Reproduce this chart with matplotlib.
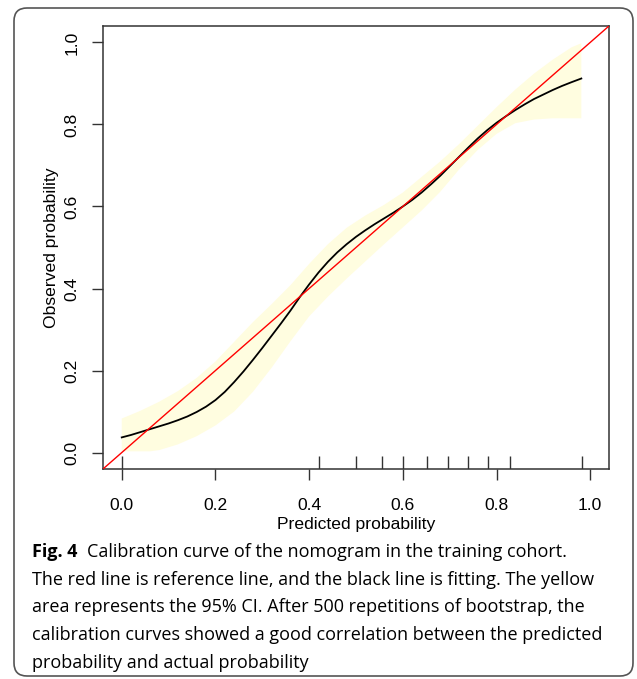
import numpy as np
import matplotlib.pyplot as plt
from matplotlib.patches import FancyBboxPatch
from matplotlib.transforms import IdentityTransform

plt.rcParams['font.family'] = ['Liberation Sans', 'DejaVu Sans']

# fitted calibration curve (black line)
pred_fit = [0.00, 0.02, 0.04, 0.06, 0.08, 0.10, 0.12, 0.14, 0.16, 0.18, 0.20, 0.22, 0.24,
            0.26, 0.28, 0.30, 0.32, 0.34, 0.36, 0.38, 0.40, 0.42, 0.44, 0.46, 0.48, 0.50,
            0.52, 0.54, 0.56, 0.58, 0.60, 0.62, 0.64, 0.66, 0.68, 0.70, 0.72, 0.74, 0.76,
            0.78, 0.80, 0.82, 0.84, 0.86, 0.88, 0.90, 0.92, 0.94, 0.96, 0.981]
obs_fit = [0.037, 0.043, 0.050, 0.057, 0.064, 0.071, 0.079, 0.088, 0.099, 0.112, 0.128, 0.148, 0.172,
           0.198, 0.226, 0.255, 0.285, 0.315, 0.346, 0.379, 0.410, 0.439, 0.465, 0.488, 0.508, 0.526,
           0.542, 0.557, 0.571, 0.585, 0.600, 0.616, 0.634, 0.654, 0.675, 0.698, 0.721, 0.744, 0.766,
           0.786, 0.804, 0.820, 0.835, 0.849, 0.862, 0.873, 0.884, 0.894, 0.903, 0.912]

# 95% CI band (yellow area)
ci_up_x = [0.00, 0.04, 0.08, 0.12, 0.16, 0.20, 0.24, 0.28, 0.32, 0.36, 0.40, 0.44, 0.48,
           0.52, 0.56, 0.60, 0.64, 0.68, 0.72, 0.76, 0.80, 0.84, 0.88, 0.92, 0.96, 0.981]
ci_up_y = [0.083, 0.102, 0.124, 0.150, 0.182, 0.222, 0.270, 0.318, 0.362, 0.408, 0.460, 0.508, 0.548,
           0.578, 0.604, 0.634, 0.672, 0.710, 0.752, 0.797, 0.842, 0.885, 0.924, 0.958, 0.988, 0.998]
ci_lo_x = [0.00, 0.06, 0.08, 0.12, 0.16, 0.20, 0.24, 0.28, 0.32, 0.36, 0.40, 0.44, 0.48,
           0.52, 0.56, 0.60, 0.64, 0.68, 0.72, 0.76, 0.80, 0.84, 0.88, 0.92, 0.981]
ci_lo_y = [0.003, 0.003, 0.006, 0.020, 0.040, 0.066, 0.100, 0.148, 0.207, 0.271, 0.332, 0.380, 0.424,
           0.466, 0.508, 0.549, 0.590, 0.636, 0.690, 0.738, 0.777, 0.803, 0.812, 0.815, 0.815]

# rug of predicted probabilities along the bottom
rug_x = [0.0, 0.422, 0.50, 0.556, 0.600, 0.652, 0.697, 0.740, 0.782, 0.829, 0.982]

ticks = [0.0, 0.2, 0.4, 0.6, 0.8, 1.0]
tick_labels = ['0.0', '0.2', '0.4', '0.6', '0.8', '1.0']

caption_bold = 'Fig. 4'
caption_first = 'Calibration curve of the nomogram in the training cohort.'
caption_rest = [
    'The red line is reference line, and the black line is fitting. The yellow',
    'area represents the 95% CI. After 500 repetitions of bootstrap, the',
    'calibration curves showed a good correlation between the predicted',
    'probability and actual probability',
]

fig = plt.figure(figsize=(6.37, 6.79), dpi=100)
ax = fig.add_axes([0.1617, 0.3093, 0.7943, 0.6524])

ax.fill(np.concatenate([ci_up_x, ci_lo_x[::-1]]),
        np.concatenate([ci_up_y, ci_lo_y[::-1]]),
        color='#FFFDE0', lw=0, zorder=1)
ax.plot(pred_fit, obs_fit, color='black', lw=1.3, zorder=3)
ax.axline((0, 0), slope=1, color='#FF0000', lw=1.0, zorder=4)
ax.vlines(rug_x, 0, 0.03, transform=ax.get_xaxis_transform(), color='#333333', lw=1.0)

ax.set_xlim(-0.04, 1.04)
ax.set_ylim(-0.04, 1.04)
ax.set_xticks(ticks, tick_labels)
ax.set_yticks(ticks, tick_labels)
for lab in ax.get_yticklabels():
    lab.set_rotation(90)
    lab.set_va('center')
ax.tick_params(direction='out', length=8, width=1.0, color='#333333', labelsize=12.6)
ax.tick_params(axis='x', pad=13)
ax.tick_params(axis='y', pad=9)
for s in ax.spines.values():
    s.set_linewidth(1.1)
    s.set_color('#333333')

ax.set_xlabel('Predicted probability', fontsize=12.6, labelpad=3)
ax.set_ylabel('Observed probability', fontsize=12.6, labelpad=4)

# rounded frame around the whole figure (pixel coords)
frame = FancyBboxPatch((14, 3), 619, 668, boxstyle='round,pad=0,rounding_size=13',
                       transform=IdentityTransform(), fill=False, ec='#555555', lw=1.2)
fig.patches.append(frame)

# caption
cap_font = ['Open Sans', 'DejaVu Sans']
cap_size = 13
W, H = 637, 679
x0 = 32 / W
t = fig.text(x0, 1 - 557 / H, caption_bold, fontsize=cap_size, fontweight='bold',
             family=cap_font, va='baseline')
fig.canvas.draw()
bb = t.get_window_extent()
fig.text((bb.x1 + 10) / W, 1 - 557 / H, caption_first, fontsize=cap_size, family=cap_font, va='baseline')
for i, line in enumerate(caption_rest):
    fig.text(x0, 1 - (585 + 27.5 * i) / H, line, fontsize=cap_size, family=cap_font, va='baseline')

fig.savefig('out.png', dpi=100)
